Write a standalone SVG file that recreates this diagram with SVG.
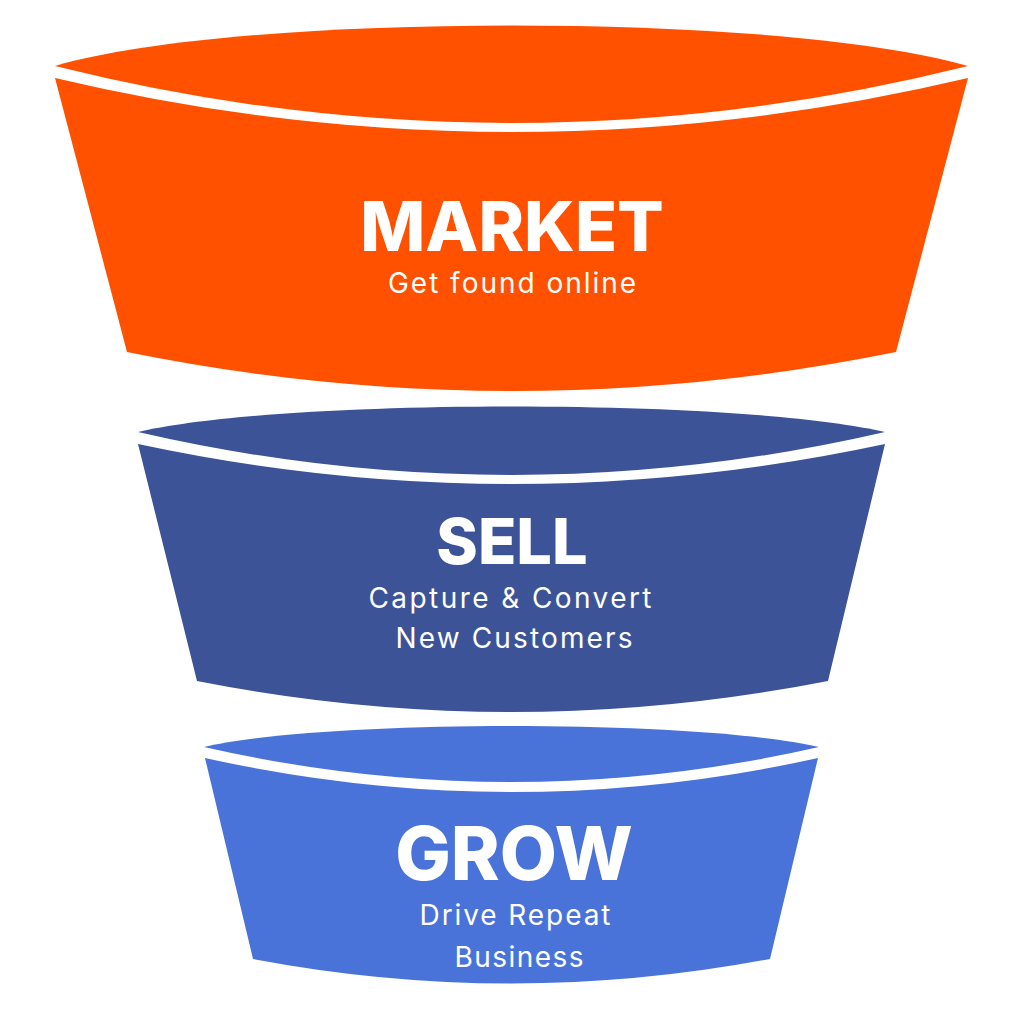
<svg xmlns="http://www.w3.org/2000/svg" width="1024" height="1024" viewBox="0 0 1024 1024">
<style>
.title{font-family:Inter,"Noto Sans","Liberation Sans",sans-serif;font-weight:800;fill:#fff;text-anchor:middle}
.sub{font-family:Inter,"Noto Sans","Liberation Sans",sans-serif;font-weight:400;fill:#fff;text-anchor:middle;font-size:28px}
.market{fill:#FF5100}
.sell{fill:#3D5398}
.grow{fill:#4A73DA}
</style>
<rect width="1024" height="1024" fill="#fff"/>
<g id="market">
<path class="market" d="M55,78 Q511.5,186 968,78 L896,352 Q511.5,430 127,352 Z"/>
<path class="market" d="M55,66 C240,12 783,12 968,66 Q511.5,180 55,66 Z"/>
<text class="title" x="512" y="251" font-size="69">MARKET</text>
<text class="sub" x="512" y="293" textLength="248" lengthAdjust="spacing">Get found online</text>
</g>
<g id="sell">
<path class="sell" d="M138,444 Q511.5,524 885,444 L828,681 Q511.5,743 197,681 Z"/>
<path class="sell" d="M138,432 C283,398 740,398 885,432 Q511.5,518 138,432 Z"/>
<text class="title" x="512" y="564" font-size="63">SELL</text>
<text class="sub" x="510" y="608" textLength="283" lengthAdjust="spacing">Capture &amp; Convert</text>
<text class="sub" x="514" y="648" textLength="237" lengthAdjust="spacing">New Customers</text>
</g>
<g id="grow">
<path class="grow" d="M205,758 Q511.5,826 818,758 L770,959 Q511.5,1008 253,959 Z"/>
<path class="grow" d="M204,747 C324,719 699,719 819,747 Q511.5,817 204,747 Z"/>
<text class="title" x="514" y="880" font-size="74">GROW</text>
<text class="sub" x="515" y="925" textLength="191" lengthAdjust="spacing">Drive Repeat</text>
<text class="sub" x="519" y="967" textLength="129" lengthAdjust="spacing">Business</text>
</g>
<g id="connectors"/>
</svg>
